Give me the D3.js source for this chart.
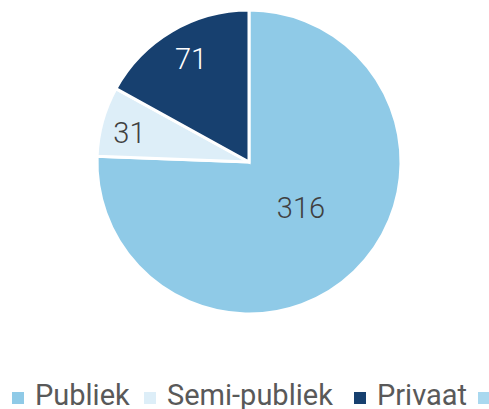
<!DOCTYPE html>
<html><head><meta charset="utf-8">
<script src="https://cdn.jsdelivr.net/npm/d3@7"></script>
<style>body{margin:0;background:#fff}svg{display:block}</style>
</head><body>
<svg id="c" width="489" height="409"></svg>
<script>
const categories = ["Publiek", "Semi-publiek", "Privaat", ""];
const values = [316, 31, 71];
const colors = ["#8FCAE7", "#DDEEF8", "#17406F", "#A9D8EF"];
const labelColors = ["#404040", "#404040", "#ffffff"];

const svg = d3.select("#c");
const cx = 249, cy = 162, r = 152;
const g = svg.append("g").attr("transform", `translate(${cx},${cy})`);
const pie = d3.pie().sort(null).value(d => d)(values);
const arc = d3.arc().innerRadius(0).outerRadius(r);
g.selectAll("path").data(pie).join("path")
  .attr("d", arc).attr("fill", (d, i) => colors[i])
  .attr("stroke", "#fff").attr("stroke-width", 3).attr("stroke-linejoin", "miter");

const frac = [0.455, 0.81, 0.778];
const angOff = [-0.084, -0.03, 0.022];
g.selectAll("text").data(pie).join("text")
  .attr("transform", (d, i) => {
    const a = (d.startAngle + d.endAngle) / 2 + angOff[i];
    const rr = r * frac[i];
    return `translate(${Math.sin(a) * rr},${-Math.cos(a) * rr})`;
  })
  .attr("text-anchor", "middle").attr("dy", "0.36em")
  .attr("font-family", "Roboto, sans-serif").attr("font-weight", 300).attr("font-size", 29)
  .attr("fill", (d, i) => labelColors[i])
  .text(d => d.value);

const legendX = [12, 144, 354, 478];
const lg = svg.append("g");
categories.forEach((c, i) => {
  lg.append("rect").attr("x", legendX[i]).attr("y", 392).attr("width", 12).attr("height", 12).attr("fill", colors[i]);
  if (c) lg.append("text").attr("x", legendX[i] + 23).attr("y", 405)
    .attr("font-family", "Roboto, sans-serif").attr("font-size", 29).attr("fill", "#595959").text(c);
});
</script>
</body></html>
